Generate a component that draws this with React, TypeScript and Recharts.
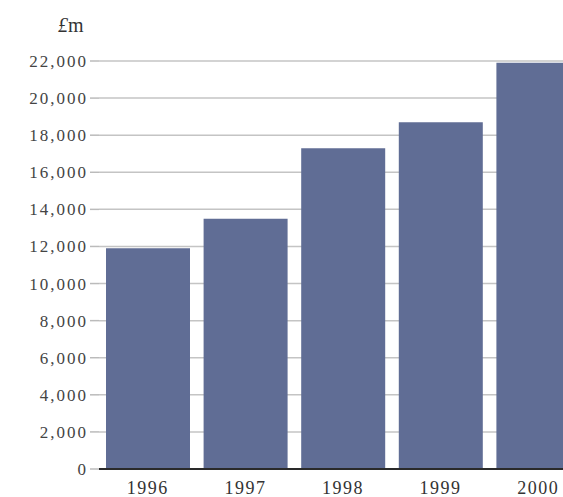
import React from 'react';
import { BarChart, Bar, XAxis, YAxis, CartesianGrid } from 'recharts';

// Spending by year, £m
const years = ['1996', '1997', '1998', '1999', '2000'];
const spend = [11900, 13500, 17300, 18700, 21900];
const yTicks = [0, 2000, 4000, 6000, 8000, 10000, 12000, 14000, 16000, 18000, 20000, 22000];

const data = years.map((year, i) => ({ year, value: spend[i] }));

const SERIF = '"Liberation Serif", "DejaVu Serif", serif';

const YTick = (props: any) => {
  const { x, y, payload } = props;
  return (
    <text x={x} y={y} dy={6} textAnchor="end" fill="#444" fontSize={17} letterSpacing={2} style={{ fontFamily: SERIF }}>
      {payload.value.toLocaleString('en-GB')}
    </text>
  );
};

const XTick = (props: any) => {
  const { x, y, payload } = props;
  return (
    <text x={x} y={y} dy={17} textAnchor="middle" fill="#333" fontSize={18} letterSpacing={1.5} style={{ fontFamily: SERIF }}>
      {payload.value}
    </text>
  );
};

export default function App() {
  return (
    <div style={{ position: 'fixed', left: 0, top: 0, width: 563, height: 497, overflow: 'hidden', background: '#fff' }}>
      <div style={{ position: 'absolute', left: 58, top: 14, fontFamily: SERIF, fontSize: 20, color: '#333' }}>
        <span style={{ fontStyle: 'italic' }}>£</span>m
      </div>
      <BarChart width={587} height={497} data={data} margin={{ top: 61, right: 0, bottom: 0, left: 0 }} barSize={84}>
        <CartesianGrid horizontal vertical={false} stroke="#c4c4c4" strokeWidth={1.5} />
        <XAxis
          dataKey="year"
          height={28}
          axisLine={{ stroke: '#2a2a2a', strokeWidth: 2 }}
          tickLine={false}
          tick={<XTick />}
          interval={0}
        />
        <YAxis
          width={99}
          domain={[0, 22000]}
          ticks={yTicks}
          axisLine={false}
          tickLine={{ stroke: '#bbb', strokeWidth: 1.5 }}
          tickSize={9}
          tick={<YTick />}
          interval={0}
        />
        <Bar dataKey="value" fill="#606d95" isAnimationActive={false} />
      </BarChart>
    </div>
  );
}
